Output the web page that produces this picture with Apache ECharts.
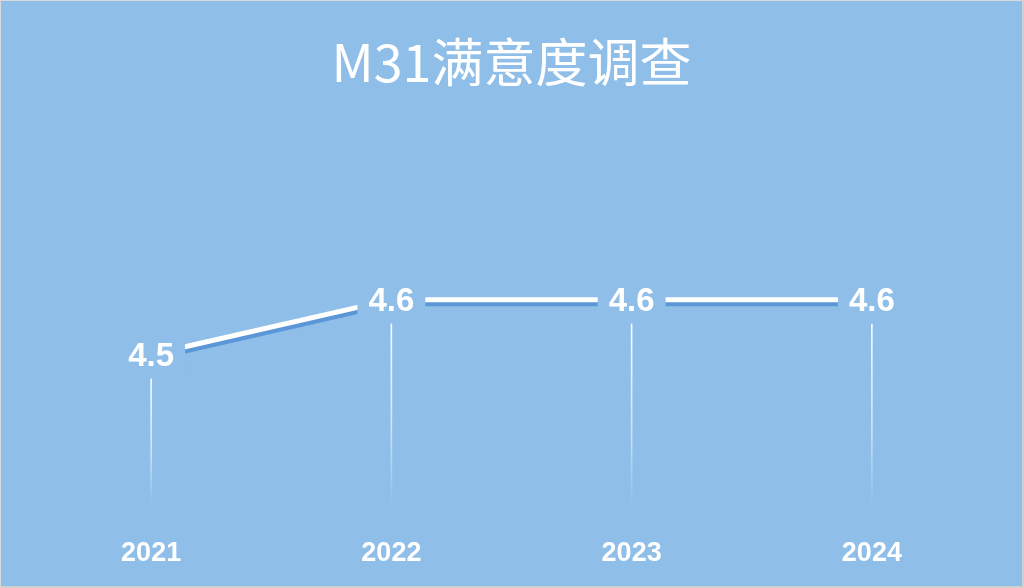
<!DOCTYPE html>
<html>
<head>
<meta charset="utf-8">
<script src="https://cdn.jsdelivr.net/npm/echarts@6/dist/echarts.min.js"></script>
<style>
  html, body { margin: 0; padding: 0; background: #d9d9d9; }
  #chart { width: 1024px; height: 588px; box-sizing: border-box; border-left: 1px solid #d9d9d9; border-top: 1px solid #d9d9d9; border-right: 2px solid #d0d0d0; border-bottom: 2px solid #d0d0d0; }
</style>
</head>
<body>
<div id="chart"></div>
<script>
const categories = ['2021', '2022', '2023', '2024'];
const scores = [4.5, 4.6, 4.6, 4.6];
const titleText = 'M31满意度调查';

const BG = '#8fbfe8';
const chart = echarts.init(document.getElementById('chart'), null, { renderer: 'canvas' });

const option = {
  backgroundColor: BG,
  animation: false,
  title: {
    text: titleText,
    left: 'center',
    top: 30,
    textStyle: { color: '#ffffff', fontSize: 52, fontWeight: 'normal', fontFamily: 'Noto Sans CJK SC' }
  },
  grid: { left: 30, right: 30, top: 189, bottom: 67 },
  xAxis: {
    type: 'category',
    data: categories,
    boundaryGap: true,
    axisLine: { show: false },
    axisTick: { show: false },
    splitLine: { show: false },
    axisLabel: { color: '#ffffff', fontSize: 27, fontWeight: 'bold', fontFamily: 'Liberation Sans', margin: 21 }
  },
  yAxis: {
    type: 'value',
    min: 4.2,
    max: 4.8,
    show: false
  },
  series: [
    {
      type: 'custom',
      z: 1,
      silent: true,
      data: scores.map((v, i) => [i, v]),
      renderItem: function (params, api) {
        const p = api.coord([api.value(0), api.value(1)]);
        const b = api.coord([api.value(0), 4.2]);
        const y1 = p[1] + 24;
        const y2 = b[1] - 14;
        return {
          type: 'line',
          shape: { x1: p[0], y1: y1, x2: p[0], y2: y2 },
          style: {
            lineWidth: 1.6,
            stroke: new echarts.graphic.LinearGradient(0, y1, 0, y2, [
              { offset: 0, color: 'rgba(255,255,255,0.95)' },
              { offset: 0.6, color: 'rgba(255,255,255,0.55)' },
              { offset: 1, color: 'rgba(255,255,255,0)' }
            ], true)
          }
        };
      }
    },
    {
      type: 'line',
      z: 3,
      data: scores,
      symbol: 'circle',
      symbolSize: 1,
      itemStyle: { color: 'rgba(0,0,0,0)' },
      lineStyle: {
        color: '#ffffff',
        width: 5,
        shadowColor: '#5b97d8',
        shadowBlur: 0,
        shadowOffsetX: 1,
        shadowOffsetY: 4
      },
      label: {
        show: true,
        position: 'inside',
        offset: [0, 2],
        color: '#ffffff',
        fontSize: 33,
        fontWeight: 'bold',
        fontFamily: 'Liberation Sans',
        backgroundColor: BG,
        padding: [4, 11, 4, 11],
        formatter: function (p) { return p.value.toFixed(1); }
      }
    }
  ]
};
chart.setOption(option);
</script>
</body>
</html>
